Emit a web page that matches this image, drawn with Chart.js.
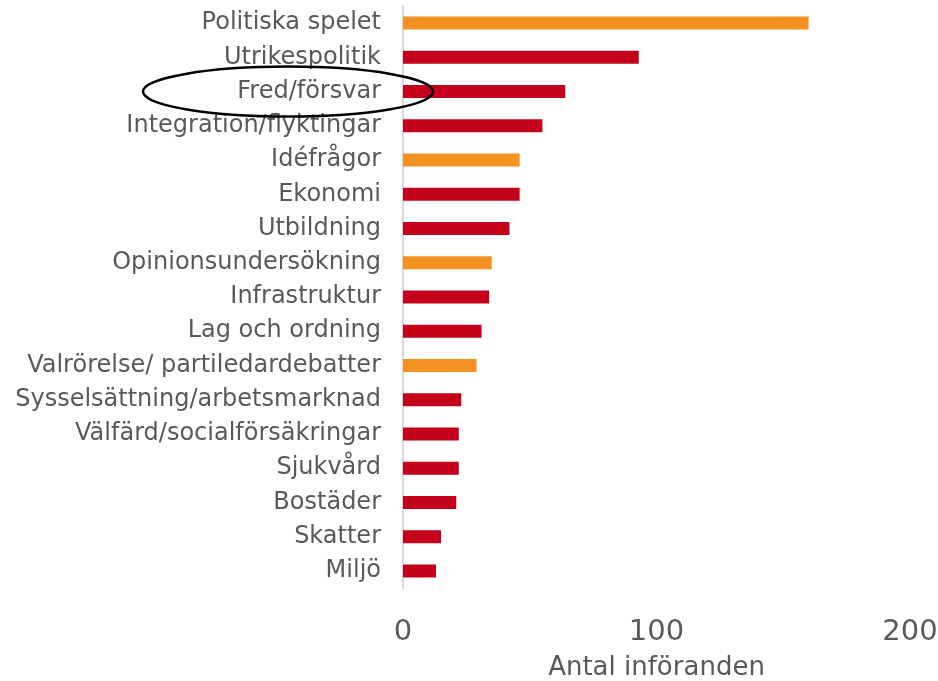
<!DOCTYPE html>
<html>
<head>
<meta charset="utf-8">
<script src="https://cdn.jsdelivr.net/npm/chart.js@4/dist/chart.umd.min.js"></script>
<style>
  html, body { margin: 0; padding: 0; background: #fff; }
  #wrap { width: 938px; height: 681px; }
</style>
</head>
<body>
<div id="wrap"><canvas id="myChart" width="938" height="681"></canvas></div>
<script>
// categories, top to bottom
const topics = [
  "Politiska spelet",
  "Utrikespolitik",
  "Fred/försvar",
  "Integration/flyktingar",
  "Idéfrågor",
  "Ekonomi",
  "Utbildning",
  "Opinionsundersökning",
  "Infrastruktur",
  "Lag och ordning",
  "Valrörelse/ partiledardebatter",
  "Sysselsättning/arbetsmarknad",
  "Välfärd/socialförsäkringar",
  "Sjukvård",
  "Bostäder",
  "Skatter",
  "Miljö",
];

// number of contributions per topic
const counts = [160, 93, 64, 55, 46, 46, 42, 35, 34, 31, 29, 23, 22, 22, 21, 15, 13];

// "spel" = game/process topics (orange), "sak" = policy issues (red)
const kinds = ["spel", "sak", "sak", "sak", "spel", "sak", "sak", "spel", "sak", "sak", "spel", "sak", "sak", "sak", "sak", "sak", "sak"];

const xTicks = [0, 100, 200];
const xTitle = "Antal införanden";
const circled = "Fred/försvar";

const kindColors = { spel: "#F39220", sak: "#C4001A" };

const FONT = "'DejaVu Sans', Verdana, sans-serif";
const TEXT = "#595959";

// ellipse drawn around one category label
const ellipsePlugin = {
  id: "ellipse",
  afterDraw(chart) {
    const idx = topics.indexOf(circled);
    if (idx < 0) return;
    const ctx = chart.ctx;
    const y = chart.scales.y.getPixelForValue(idx);
    const right = chart.scales.x.getPixelForValue(0) + 30;
    const rx = 145;
    const ry = 25;
    ctx.save();
    ctx.beginPath();
    ctx.ellipse(right - rx, y, rx, ry, 0, 0, Math.PI * 2);
    ctx.lineWidth = 2.5;
    ctx.strokeStyle = "#000";
    ctx.stroke();
    ctx.restore();
  },
};

const data = {
  labels: topics,
  datasets: [
    {
      label: xTitle,
      data: counts,
      backgroundColor: kinds.map((k) => kindColors[k]),
      borderWidth: 0,
      barPercentage: 0.38,
      categoryPercentage: 1,
    },
  ],
};

const config = {
  type: "bar",
  data: data,
  plugins: [ellipsePlugin],
  options: {
    indexAxis: "y",
    responsive: false,
    animation: false,
    layout: { padding: { top: 6, right: 28, left: 0, bottom: 0 } },
    plugins: {
      legend: { display: false },
      tooltip: { enabled: false },
    },
    scales: {
      x: {
        min: 0,
        max: 200,
        afterBuildTicks: (scale) => {
          scale.ticks = xTicks.map((v) => ({ value: v }));
        },
        grid: { display: false },
        border: { display: false },
        ticks: {
          color: TEXT,
          font: { family: FONT, size: 29 },
          padding: 19,
          maxRotation: 0,
        },
        title: {
          display: true,
          text: xTitle,
          color: TEXT,
          font: { family: FONT, size: 26, lineHeight: 1 },
          padding: { top: 2, bottom: 0 },
        },
        afterFit: (scale) => {
          scale.height = 93;
          scale.paddingLeft = 0;
          scale.paddingRight = 0;
        },
      },
      y: {
        grid: { display: false },
        border: { display: true, color: "#d9d9d9", width: 2 },
        ticks: {
          color: TEXT,
          font: { family: FONT, size: 24 },
          padding: 14,
          autoSkip: false,
        },
        afterFit: (scale) => {
          scale.width = 403;
          scale.paddingTop = 0;
          scale.paddingBottom = 0;
        },
      },
    },
  },
};

new Chart(document.getElementById("myChart"), config);
</script>
</body>
</html>
